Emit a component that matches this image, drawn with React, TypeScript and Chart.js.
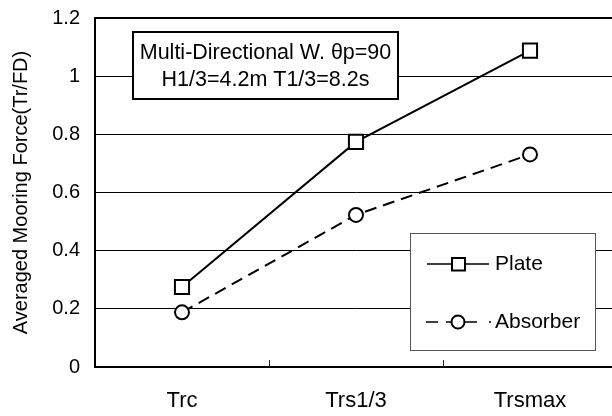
import React, { useEffect, useRef } from "react";
import { Chart, registerables } from "chart.js";

Chart.register(...registerables);

const categories = ["Trc", "Trs1/3", "Trsmax"];
const plateValues = [0.275, 0.774, 1.088];
const absorberValues = [0.188, 0.523, 0.731];
const yMin = 0;
const yMax = 1.2;
const yStep = 0.2;
const yTitle = "Averaged Mooring Force(Tr/FD)";
const noteLines = ["Multi-Directional W. \u03b8p=90", "H1/3=4.2m T1/3=8.2s"];
const seriesNames = ["Plate", "Absorber"];

const FONT = '"Liberation Sans", Arial, Helvetica, sans-serif';

const decorPlugin = {
  id: "decor",
  afterDraw(chart: any) {
    const ctx = chart.ctx;
    const xs = chart.scales.x;
    const area = chart.chartArea;
    ctx.save();
    // inward tick marks at category boundaries
    ctx.strokeStyle = "#222";
    ctx.lineWidth = 1;
    for (let i = 0; i < categories.length - 1; i++) {
      const x = Math.round((xs.getPixelForValue(i) + xs.getPixelForValue(i + 1)) / 2) + 0.5;
      ctx.beginPath();
      ctx.moveTo(x, area.bottom);
      ctx.lineTo(x, area.bottom - 7);
      ctx.stroke();
    }

    // annotation box
    ctx.fillStyle = "#fff";
    ctx.fillRect(133, 32, 265, 67);
    ctx.strokeStyle = "#000";
    ctx.lineWidth = 2;
    ctx.strokeRect(133, 32, 265, 67);
    ctx.fillStyle = "#000";
    ctx.font = "21.5px " + FONT;
    ctx.textAlign = "center";
    ctx.textBaseline = "middle";
    ctx.fillText(noteLines[0], 265.5, 53);
    ctx.fillText(noteLines[1], 265.5, 80);

    // legend box
    ctx.fillStyle = "#fff";
    ctx.fillRect(410.5, 233.5, 185, 117);
    ctx.strokeStyle = "#555";
    ctx.lineWidth = 1;
    ctx.strokeRect(410.5, 233.5, 185, 117);

    // Plate entry
    ctx.strokeStyle = "#000";
    ctx.lineWidth = 1.5;
    ctx.beginPath();
    ctx.moveTo(427, 264);
    ctx.lineTo(489, 264);
    ctx.stroke();
    ctx.fillStyle = "#fff";
    ctx.fillRect(452, 258, 13, 12.5);
    ctx.lineWidth = 2;
    ctx.strokeRect(452, 258, 13, 12.5);

    // Absorber entry
    ctx.lineWidth = 1.5;
    const segs = [[426, 438], [446, 451], [465, 477], [489, 491]];
    segs.forEach(([a, b]) => {
      ctx.beginPath();
      ctx.moveTo(a, 322);
      ctx.lineTo(b, 322);
      ctx.stroke();
    });
    ctx.beginPath();
    ctx.arc(458, 322, 6.5, 0, Math.PI * 2);
    ctx.fillStyle = "#fff";
    ctx.fill();
    ctx.lineWidth = 2;
    ctx.stroke();

    ctx.fillStyle = "#000";
    ctx.font = "21px " + FONT;
    ctx.textAlign = "left";
    ctx.textBaseline = "middle";
    ctx.fillText(seriesNames[0], 495, 264);
    ctx.fillText(seriesNames[1], 495, 322);
    ctx.restore();
  },
};

export default function App() {
  const ref = useRef<HTMLCanvasElement>(null);
  useEffect(() => {
    if (!ref.current) return;
    const chart = new Chart(ref.current, {
      type: "line",
      data: {
        labels: categories,
        datasets: [
          {
            label: seriesNames[0],
            data: plateValues,
            borderColor: "#000",
            borderWidth: 2,
            pointStyle: "rect",
            pointRadius: 10,
            pointBorderWidth: 2,
            pointBackgroundColor: "#fff",
            pointBorderColor: "#000",
            tension: 0,
          },
          {
            label: seriesNames[1],
            data: absorberValues,
            borderColor: "#000",
            borderWidth: 2,
            borderDash: [12, 7],
            pointStyle: "circle",
            pointRadius: 7,
            pointBorderWidth: 2,
            pointBackgroundColor: "#fff",
            pointBorderColor: "#000",
            tension: 0,
          },
        ],
      },
      options: {
        animation: false,
        responsive: false,
        devicePixelRatio: 1,
        layout: { autoPadding: false, padding: { top: 18, right: 0, bottom: 0, left: 0 } },
        plugins: {
          legend: { display: false },
          tooltip: { enabled: false },
        },
        scales: {
          x: {
            type: "category",
            offset: true,
            grid: { display: false, drawTicks: false },
            border: { display: true, color: "#000", width: 2 },
            ticks: {
              color: "#000",
              font: { family: FONT, size: 22 },
              padding: 21,
              maxRotation: 0,
            },
            afterFit: (s: any) => {
              s.height = 49;
              s.paddingLeft = 0;
              s.paddingRight = 0;
            },
          },
          y: {
            min: yMin,
            max: yMax,
            grid: {
              color: "#000",
              lineWidth: (c: any) =>
                c.tick && Math.abs(c.tick.value - yMax) < 1e-6 ? 2 : 1,
              drawTicks: false,
            },
            border: { display: true, color: "#000", width: 2 },
            ticks: {
              stepSize: yStep,
              color: "#000",
              font: { family: FONT, size: 20 },
              padding: 15,
              callback: (v: any) => String(Number(Number(v).toFixed(1))),
            },
            title: {
              display: true,
              text: yTitle,
              color: "#000",
              font: { family: FONT, size: 20 },
              padding: { top: 9, bottom: 0 },
            },
            afterFit: (s: any) => {
              s.width = 95;
              s.paddingTop = 0;
              s.paddingBottom = 0;
            },
          },
        },
      },
      plugins: [decorPlugin],
    });
    return () => chart.destroy();
  }, []);
  return (
    <div
      style={{
        position: "absolute",
        left: 0,
        top: 0,
        width: 612,
        height: 416,
        overflow: "hidden",
        background: "#fff",
      }}
    >
      <canvas ref={ref} width={617} height={416} style={{ display: "block" }} />
    </div>
  );
}
